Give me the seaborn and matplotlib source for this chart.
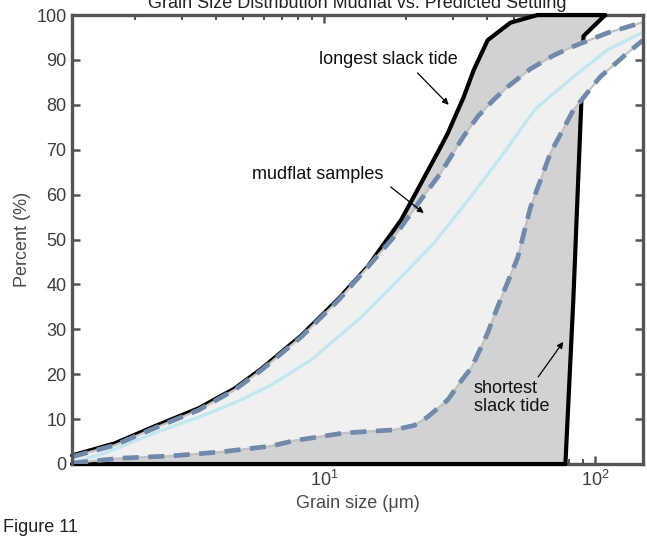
import numpy as np
import matplotlib as mpl; mpl.use("Agg")
import matplotlib.pyplot as plt
from matplotlib.ticker import LogLocator, NullFormatter, MultipleLocator
import seaborn as sns

# ---- data (grain size in um, cumulative percent) ----
long_x = [1.175, 1.69, 2.37, 3.44, 4.67, 5.87, 8.23, 11.3, 14.5, 16.2, 19.2, 21.4, 26.9, 28.6, 32.7, 35.6, 40.1, 48.7, 61.2, 108.8]
long_y = [1.9, 4.6, 8.4, 12.4, 16.8, 21.2, 28.6, 36.8, 44.0, 48.1, 54.3, 59.5, 70.6, 73.7, 81.7, 87.7, 94.4, 98.3, 100.0, 100.0]

short_x = [1.175, 77.6, 83.0, 89.0, 90.5, 108.8]
short_y = [0.0, 0.0, 36.5, 81.7, 95.3, 100.0]

upper_x = [1.175, 1.69, 2.37, 3.44, 4.67, 5.87, 8.23, 11.3, 14.5, 18.1, 22.7, 26.9, 32.7, 37.0, 42.0, 47.5, 57.7, 70.1, 83.0, 110.7, 150]
upper_y = [1.6, 4.2, 8.0, 12.0, 16.5, 20.9, 28.3, 36.5, 43.9, 50.6, 58.8, 64.8, 73.0, 77.5, 81.0, 84.0, 88.0, 91.0, 93.0, 96.0, 98.4]

mean_x = [1.175, 1.55, 2.37, 3.62, 4.83, 6.38, 8.96, 13.7, 19.2, 25.4, 32.7, 45.0, 60.0, 83.0, 110.7, 150]
mean_y = [0.3, 2.4, 6.9, 10.9, 14.0, 17.6, 23.2, 32.7, 41.6, 49.2, 57.5, 68.5, 79.0, 86.2, 92.2, 96.2]

lower_x = [1.175, 1.79, 2.74, 4.18, 6.38, 7.76, 11.8, 18.1, 21.5, 24.1, 28.6, 32.0, 35.0, 40.1, 43.9, 51.7, 57.7, 68.4, 83.0, 104.2, 131.2, 150]
lower_y = [0.2, 1.3, 1.8, 2.7, 4.0, 5.2, 6.9, 7.6, 8.6, 10.5, 14.3, 18.5, 21.5, 29.2, 35.4, 45.9, 57.2, 69.3, 78.8, 86.2, 91.5, 94.4]

# predicted settling lines along the top
pred_x = [40.1, 48.7, 61.2, 150]
pred_y = [94.4, 98.3, 100.0, 100.0]

XLIM = (1.175, 150)
YLIM = (0, 100)

sns.set_theme(style="ticks")
plt.rcParams["font.family"] = ["Liberation Sans", "DejaVu Sans"]
plt.rcParams["mathtext.fontset"] = "custom"
plt.rcParams["mathtext.rm"] = "Liberation Sans"
plt.rcParams["mathtext.it"] = "Liberation Sans"

FS = 13
TXT = "#3d3d3d"
AXC = "#555555"

fig = plt.figure(figsize=(6.47, 5.39), dpi=100)
ax = fig.add_axes([72/647, 75/539, 571/647, 449/539])
ax.set_xscale("log")

# shaded regions
ax.fill(long_x + short_x[::-1], long_y + short_y[::-1], color="#d1d2d4", lw=0, zorder=1)
sns.lineplot(x=pred_x, y=pred_y, ax=ax, color="#1f6fc0", lw=1.2, sort=False, estimator=None,
             zorder=2, clip_on=False)
for xs, ys in ((long_x, long_y), (short_x, short_y)):
    sns.lineplot(x=xs, y=ys, ax=ax, color="black", lw=3.0, sort=False, estimator=None,
                 zorder=2.1, clip_on=False)
ax.fill(upper_x + lower_x[::-1], upper_y + lower_y[::-1], color="#f0f0f0", lw=0, zorder=2.2)

# mudflat envelope + mean
for xs, ys in ((upper_x, upper_y), (lower_x, lower_y)):
    sns.lineplot(x=xs, y=ys, ax=ax, color="#c2c2c2", lw=1.6, sort=False, estimator=None, zorder=2.3)
sns.lineplot(x=mean_x, y=mean_y, ax=ax, color="#c3e7f0", lw=2.4, sort=False, estimator=None, zorder=2.35)
for xs, ys in ((upper_x, upper_y), (lower_x, lower_y)):
    sns.lineplot(x=xs, y=ys, ax=ax, color="#7189ab", lw=3.4, sort=False, estimator=None,
                 linestyle=(0, (3.4, 2.0)), zorder=2.4)

ax.set_xlim(*XLIM); ax.set_ylim(*YLIM)

# axes styling
for name, s in ax.spines.items():
    s.set_visible(True); s.set_color(AXC); s.set_linewidth(2.4)
    s.set_zorder(2.0 if name in ("top", "bottom") else 3)
ax.yaxis.set_major_locator(MultipleLocator(10))
ax.xaxis.set_major_locator(LogLocator(base=10))
ax.xaxis.set_minor_locator(LogLocator(base=10, subs=np.arange(2, 10)))
ax.xaxis.set_minor_formatter(NullFormatter())
ax.tick_params(which="both", direction="in", top=True, right=True, color=AXC,
               labelcolor=TXT, labelsize=FS)
ax.tick_params(which="major", length=5.5, width=1.8, pad=4)
ax.tick_params(which="minor", length=3.5, width=1.5)
ax.set_xlabel("Grain size (μm)", fontsize=FS, color="#4a4a4a", labelpad=4)
ax.set_ylabel("Percent (%)", fontsize=FS, color="#4a4a4a", labelpad=4)
ax.grid(False)

# annotations
arr = dict(arrowstyle="-|>", color="black", lw=0.9, mutation_scale=9, shrinkA=0, shrinkB=0)
ax.text(17.3, 90.0, "longest slack tide", fontsize=FS, ha="center", va="center", color="#111111", zorder=5)
ax.annotate("", xy=(28.8, 80.0), xytext=(22.1, 87.1), arrowprops=arr, zorder=5)
ax.text(9.5, 64.4, "mudflat samples", fontsize=FS, ha="center", va="center", color="#111111", zorder=5)
ax.annotate("", xy=(23.3, 55.9), xytext=(17.6, 61.7), arrowprops=arr, zorder=5)
ax.text(35.6, 14.8, "shortest\nslack tide", fontsize=FS, ha="left", va="center", color="#111111",
        linespacing=1.05, zorder=5)
ax.annotate("", xy=(76.2, 27.2), xytext=(61.6, 19.4), arrowprops=arr, zorder=5)

fig.text(357.5/647, 1 - 8.5/539, "Grain Size Distribution Mudflat vs. Predicted Settling",
         fontsize=FS, ha="center", va="baseline", color="#222222")
fig.text(3/647, 1 - 528/539, "Figure 11", fontsize=FS, ha="left", va="center", color="#222222")

fig.savefig("out.png", dpi=100)
